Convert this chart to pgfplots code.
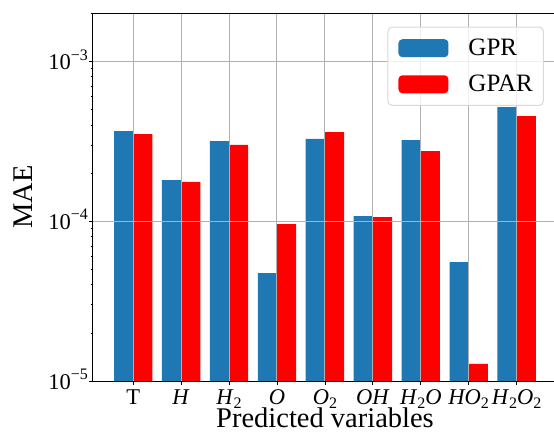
\documentclass[border=0pt]{standalone}
\usepackage{fontspec}
\setmainfont{Liberation Serif}
\usepackage{pgfplots}
\pgfplotsset{compat=1.18}
\definecolor{gprblue}{HTML}{1F77B4}
\definecolor{gparred}{HTML}{FF0000}
\definecolor{gridgray}{HTML}{B0B0B0}
\definecolor{legendgray}{HTML}{D9D9D9}
\newcommand{\tk}{\fontsize{22.5}{27}\selectfont}
\newcommand{\sub}[1]{\raisebox{-4.5pt}{\fontsize{16}{16}\selectfont #1}}
\newcommand{\ex}[1]{10\raisebox{9.3pt}{\fontsize{16}{16}\selectfont −#1}}
\pgfplotstableread{
x gpr gpar
0 3.66e-4 3.51e-4
1 1.81e-4 1.76e-4
2 3.17e-4 3.00e-4
3 4.74e-5 9.60e-5
4 3.27e-4 3.61e-4
5 1.077e-4 1.06e-4
6 3.22e-4 2.75e-4
7 5.55e-5 1.28e-5
8 5.18e-4 4.55e-4
}\datatable
\begin{document}
\begin{tikzpicture}
\begin{axis}[name=ax, scale only axis, width=461.3pt, height=367.7pt,
  xmin=-0.845, xmax=8.78, ymode=log, log origin=infty, ymin=1e-5, ymax=2e-3,
  axis y line*=left,
  axis line style={line width=1pt, black},
  tick pos=left, tick align=outside,
  major tick length=3.5pt, minor tick length=2pt,
  tick style={black, line width=0.8pt},
  xmajorgrids, ymajorgrids,
  major grid style={gridgray, line width=1pt},
  axis on top,
  xtick={0,...,8},
  xticklabels={T, \textit{H}, \textit{H}\sub{2}, \textit{O}, \textit{O}\sub{2}, \textit{OH}, \textit{H}\sub{2}\textit{O}, \textit{HO}\sub{2}, \textit{H}\sub{2}\textit{O}\sub{2}},
  ytick={1e-5,1e-4,1e-3},
  yticklabels={\ex{5},\ex{4},\ex{3}},
  minor ytick={2e-5,3e-5,4e-5,5e-5,6e-5,7e-5,8e-5,9e-5,2e-4,3e-4,4e-4,5e-4,6e-4,7e-4,8e-4,9e-4,2e-3},
  /pgf/number format/assume math mode=true,
  xticklabel style={font=\tk, anchor=base, inner sep=0pt, yshift=-19.5pt},
  yticklabel style={font=\tk, anchor=base east, inner sep=0pt, yshift=-8pt, xshift=-1pt},
  every axis x label/.style={at={(rel axis cs:0.5036,0)}, anchor=base, inner sep=0pt, yshift=-46.3pt, font=\fontsize{28.5}{34}\selectfont},
  every axis y label/.style={at={(rel axis cs:0,0.5)}, anchor=center, inner sep=0pt, rotate=90, yshift=69.9pt, font=\fontsize{28.5}{34}\selectfont},
  xlabel={Predicted variables},
  ylabel={MAE},
  legend style={at={(0.978,0.9636)}, anchor=north east, font=\fontsize{25}{30}\selectfont,
    draw=legendgray, fill=white, fill opacity=0.8, draw opacity=1, text opacity=1,
    rounded corners=4pt, inner xsep=10.5pt, inner ysep=12pt, row sep=18pt,
    nodes={inner sep=0pt}, line width=1pt},
  legend cell align=left,
  legend image code/.code={\fill[#1, fill opacity=1, draw=none] (0pt,-9pt) rectangle (50pt,9pt); \path (70pt,0pt) circle (0pt);},
]
\addplot[ybar, bar width=0.4, bar shift=-0.2, fill=gprblue, draw=none] table[x=x, y=gpr] {\datatable};
\addlegendentry{GPR}
\addplot[ybar, bar width=0.4, bar shift=0.2, fill=gparred, draw=none] table[x=x, y=gpar] {\datatable};
\addlegendentry{GPAR}
\end{axis}
\pgfresetboundingbox
\path ([xshift=-92.7pt, yshift=-50pt]ax.south west) rectangle ([xshift=461.3pt, yshift=381pt]ax.south west);
\end{tikzpicture}
\end{document}
